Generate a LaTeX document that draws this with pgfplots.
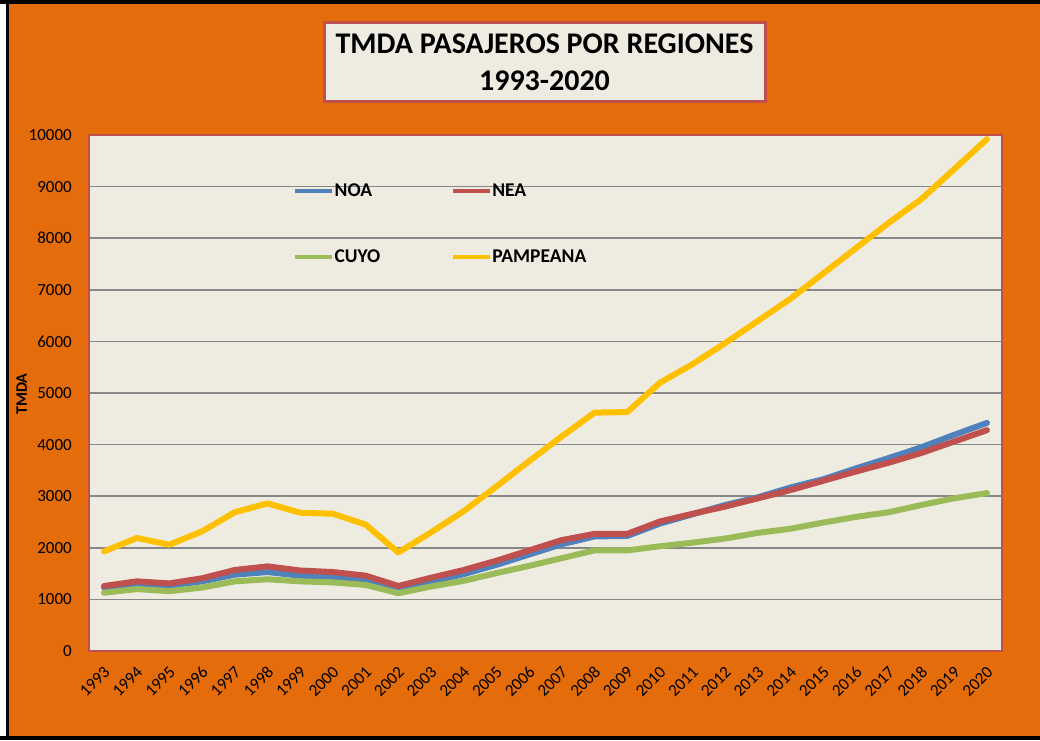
\documentclass[border=0pt]{standalone}
\usepackage{fontspec}
\setmainfont{Carlito}
\usepackage{pgfplots}
\pgfplotsset{compat=1.18}
\definecolor{bgorange}{HTML}{E46C0A}
\definecolor{plotbg}{HTML}{EEECE1}
\definecolor{boxred}{HTML}{C0504D}
\definecolor{gridgray}{HTML}{878787}
\definecolor{noa}{HTML}{4F81BD}
\definecolor{nea}{HTML}{C0504D}
\definecolor{cuyo}{HTML}{9BBB59}
\definecolor{pampeana}{HTML}{FFC000}
\begin{document}
\begin{tikzpicture}
% background (pixel px -> (px-89, 651-py))
\fill[bgorange] (-89pt,-89pt) rectangle (951pt,651pt);
\fill[white] (-89pt,-89pt) rectangle (-83pt,651pt);
\fill[black] (-83pt,-89pt) rectangle (-80pt,651pt);
\fill[black] (-89pt,647pt) rectangle (951pt,651pt);
\fill[black] (-89pt,-89pt) rectangle (951pt,-85pt);
\begin{axis}[
  at={(0pt,0pt)}, anchor=south west,
  scale only axis, width=913pt, height=516pt,
  xmin=1992.54, xmax=2020.46, ymin=0, ymax=10000,
  xtick={1993,...,2020}, ytick={0,1000,...,10000},
  scaled x ticks=false, scaled y ticks=false,
  /pgf/number format/1000 sep={},
  /pgf/number format/assume math mode=true,
  axis background/.style={fill=plotbg},
  axis line style={draw=boxred, line width=1.5pt},
  ymajorgrids, major grid style={draw=gridgray, line width=1.5pt},
  tick style={draw=none},
  ticklabel style={font=\fontsize{17}{20}\selectfont},
  yticklabel style={anchor=east, inner sep=0pt, xshift=-17pt},
  xticklabel style={xshift=3pt, yshift=-18pt, rotate=45, anchor=east, inner sep=0pt},
  ylabel={TMDA},
  ylabel style={font=\bfseries\fontsize{16}{19}\selectfont, at={(axis description cs:-0.0737,0.498)}, anchor=center},
  legend columns=2, legend cell align=left,
  legend style={at={(0.2234,0.9091)}, anchor=north west, draw=none, fill=none, inner sep=0pt,
    row sep=47pt, font=\bfseries\fontsize{19.5}{23}\selectfont,
    /tikz/every even column/.append style={column sep=70pt},
    nodes={inner xsep=0.5pt, inner ysep=2pt, text depth=0.15em}},
  legend image code/.code={\draw[line width=4pt, line cap=butt] (0pt,0pt) -- (37pt,0pt);},
  every axis plot/.append style={line width=6pt, line join=round, line cap=round, no markers},
]
\addplot[noa] coordinates {
(1993,1230) (1994,1310) (1995,1270) (1996,1350) (1997,1480) (1998,1530) (1999,1460)
(2000,1430) (2001,1370) (2002,1200) (2003,1340) (2004,1490) (2005,1670) (2006,1870)
(2007,2070) (2008,2220) (2009,2230) (2010,2470) (2011,2650) (2012,2830) (2013,2980)
(2014,3170) (2015,3330) (2016,3540) (2017,3740) (2018,3950) (2019,4190) (2020,4420)};
\addlegendentry{NOA}
\addplot[nea] coordinates {
(1993,1260) (1994,1350) (1995,1310) (1996,1410) (1997,1570) (1998,1640) (1999,1560)
(2000,1530) (2001,1460) (2002,1260) (2003,1420) (2004,1570) (2005,1750) (2006,1950)
(2007,2150) (2008,2270) (2009,2270) (2010,2510) (2011,2660) (2012,2800) (2013,2960)
(2014,3120) (2015,3300) (2016,3480) (2017,3650) (2018,3840) (2019,4060) (2020,4280)};
\addlegendentry{NEA}
\addplot[cuyo] coordinates {
(1993,1130) (1994,1200) (1995,1160) (1996,1230) (1997,1350) (1998,1390) (1999,1350)
(2000,1330) (2001,1280) (2002,1120) (2003,1250) (2004,1360) (2005,1510) (2006,1650)
(2007,1800) (2008,1950) (2009,1950) (2010,2030) (2011,2100) (2012,2180) (2013,2290)
(2014,2370) (2015,2490) (2016,2600) (2017,2690) (2018,2830) (2019,2960) (2020,3060)};
\addlegendentry{CUYO}
\addplot[pampeana] coordinates {
(1993,1930) (1994,2190) (1995,2060) (1996,2320) (1997,2690) (1998,2860) (1999,2680)
(2000,2660) (2001,2450) (2002,1910) (2003,2300) (2004,2710) (2005,3190) (2006,3680)
(2007,4160) (2008,4620) (2009,4630) (2010,5200) (2011,5560) (2012,5970) (2013,6400)
(2014,6830) (2015,7320) (2016,7810) (2017,8300) (2018,8760) (2019,9340) (2020,9920)};
\addlegendentry{PAMPEANA}
\end{axis}
\node[draw=boxred, line width=3pt, fill=plotbg, minimum width=441pt, minimum height=79pt,
  inner sep=0pt, align=center, font=\bfseries\fontsize{30}{37}\selectfont]
  at (455.5pt,588.5pt) {TMDA PASAJEROS POR REGIONES\\1993-2020};
\end{tikzpicture}
\end{document}
